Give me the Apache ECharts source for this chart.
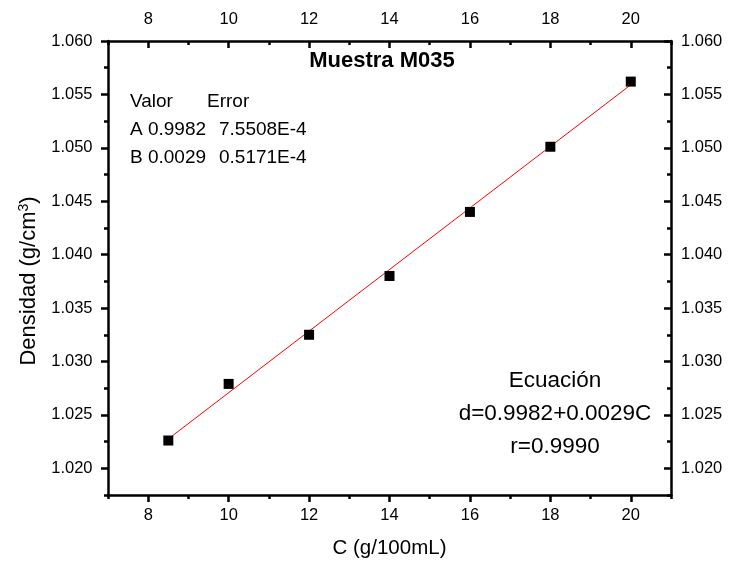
<!DOCTYPE html>
<html>
<head>
<meta charset="utf-8">
<script src="https://cdn.jsdelivr.net/npm/echarts@6/dist/echarts.min.js"></script>
<style>html,body{margin:0;padding:0;background:#fff;}#c{width:729px;height:566px;}</style>
</head>
<body>
<div id="c"></div>
<script>
// Data
const concentration = [8.5, 10, 12, 14, 16, 18, 20];
const density = [1.0226, 1.0279, 1.0325, 1.0380, 1.0440, 1.0501, 1.0562];
const fitX = [8.5, 20];
const fitY = [1.02275, 1.0559];
const xMajorTicks = [8, 10, 12, 14, 16, 18, 20];
const yMajorTicks = [1.020, 1.025, 1.030, 1.035, 1.040, 1.045, 1.050, 1.055, 1.060];
const titleText = 'Muestra M035';
const tableLines = ['Valor', 'Error', 'A 0.9982', '7.5508E-4', 'B 0.0029', '0.5171E-4'];
const eqLines = ['Ecuación', 'd=0.9982+0.0029C', 'r=0.9990'];

const FONT = '"Liberation Sans", Arial, sans-serif';
const xMin = 7, xMax = 21, yMin = 1.0175, yMax = 1.060;
const axisLine = { show: true, onZero: false, lineStyle: { color: '#000', width: 2.5 } };
const TICKFS = 16.5;

function majorX(pos, inside, margin) {
  return {
    type: 'value', position: pos, min: xMin, max: xMax, gridIndex: 0,
    axisLine: axisLine, splitLine: { show: false },
    axisTick: { show: true, inside: inside, length: 7, customValues: xMajorTicks, lineStyle: { color: '#000', width: 2.5 } },
    axisLabel: { show: true, customValues: xMajorTicks, margin: margin, color: '#000', fontSize: TICKFS, fontFamily: FONT }
  };
}
function minorX(pos, inside) {
  return {
    type: 'value', position: pos, min: xMin, max: xMax, interval: 1, gridIndex: 0,
    axisLine: { show: false }, splitLine: { show: false }, axisLabel: { show: false },
    axisTick: { show: true, inside: inside, length: 4, lineStyle: { color: '#000', width: 2.5 } }
  };
}
function majorY(pos, inside, margin) {
  return {
    type: 'value', position: pos, min: yMin, max: yMax, gridIndex: 0,
    axisLine: axisLine, splitLine: { show: false },
    axisTick: { show: true, inside: inside, length: 7, customValues: yMajorTicks, lineStyle: { color: '#000', width: 2.5 } },
    axisLabel: { show: true, customValues: yMajorTicks, margin: margin, color: '#000', fontSize: TICKFS, fontFamily: FONT,
      formatter: v => v.toFixed(3) }
  };
}
function minorY(pos, inside) {
  return {
    type: 'value', position: pos, min: yMin, max: yMax, interval: 0.0025, gridIndex: 0,
    axisLine: { show: false }, splitLine: { show: false }, axisLabel: { show: false },
    axisTick: { show: true, inside: inside, length: 4, lineStyle: { color: '#000', width: 2.5 } }
  };
}

const xb = majorX('bottom', false, 12);
xb.name = 'C (g/100mL)'; xb.nameLocation = 'middle'; xb.nameGap = 43;
xb.nameTextStyle = { color: '#000', fontSize: 20.5, fontFamily: FONT };
const yl = majorY('left', false, 15.5);
yl.name = 'Densidad (g/cm{sup|3})'; yl.nameLocation = 'middle'; yl.nameGap = 66;
yl.nameTextStyle = { color: '#000', fontSize: 22, fontFamily: FONT, padding: [0, 26, 0, 0],
  rich: { sup: { fontSize: 14, verticalAlign: 'bottom', padding: [0, 0, 11, 0], fontFamily: FONT, color: '#000' } } };

const TABLEF = '19px ' + FONT;
const EQF = '22.5px ' + FONT;
const chart = echarts.init(document.getElementById('c'));
chart.setOption({
  backgroundColor: '#fff',
  animation: false,
  grid: { left: 108, right: 58, top: 41, bottom: 71, containLabel: false },
  xAxis: [xb, minorX('bottom', false), majorX('top', true, 13), minorX('top', true)],
  yAxis: [yl, minorY('left', false), majorY('right', true, 10), minorY('right', true)],
  series: [
    { type: 'line', xAxisIndex: 0, yAxisIndex: 0, data: fitX.map((x, i) => [x, fitY[i]]),
      showSymbol: false, symbol: 'none', lineStyle: { color: '#ff0000', width: 1 }, z: 2 },
    { type: 'scatter', xAxisIndex: 0, yAxisIndex: 0, data: concentration.map((x, i) => [x, density[i]]),
      symbol: 'rect', symbolSize: 10, itemStyle: { color: '#000', opacity: 1 }, z: 3 }
  ],
  graphic: [
    { type: 'text', x: 382, y: 61, style: { text: titleText, fill: '#000', font: 'bold 22px ' + FONT, textAlign: 'center', textVerticalAlign: 'middle' } },
    { type: 'text', x: 130, y: 102, style: { text: tableLines[0], fill: '#000', font: TABLEF, textVerticalAlign: 'middle' } },
    { type: 'text', x: 207, y: 102, style: { text: tableLines[1], fill: '#000', font: TABLEF, textVerticalAlign: 'middle' } },
    { type: 'text', x: 130, y: 130, style: { text: tableLines[2], fill: '#000', font: TABLEF, textVerticalAlign: 'middle' } },
    { type: 'text', x: 219, y: 130, style: { text: tableLines[3], fill: '#000', font: TABLEF, textVerticalAlign: 'middle' } },
    { type: 'text', x: 130, y: 158, style: { text: tableLines[4], fill: '#000', font: TABLEF, textVerticalAlign: 'middle' } },
    { type: 'text', x: 219, y: 158, style: { text: tableLines[5], fill: '#000', font: TABLEF, textVerticalAlign: 'middle' } },
    { type: 'text', x: 555, y: 381, style: { text: eqLines[0], fill: '#000', font: EQF, textAlign: 'center', textVerticalAlign: 'middle' } },
    { type: 'text', x: 555, y: 414, style: { text: eqLines[1], fill: '#000', font: EQF, textAlign: 'center', textVerticalAlign: 'middle' } },
    { type: 'text', x: 555, y: 447, style: { text: eqLines[2], fill: '#000', font: EQF, textAlign: 'center', textVerticalAlign: 'middle' } }
  ]
});
</script>
</body>
</html>
